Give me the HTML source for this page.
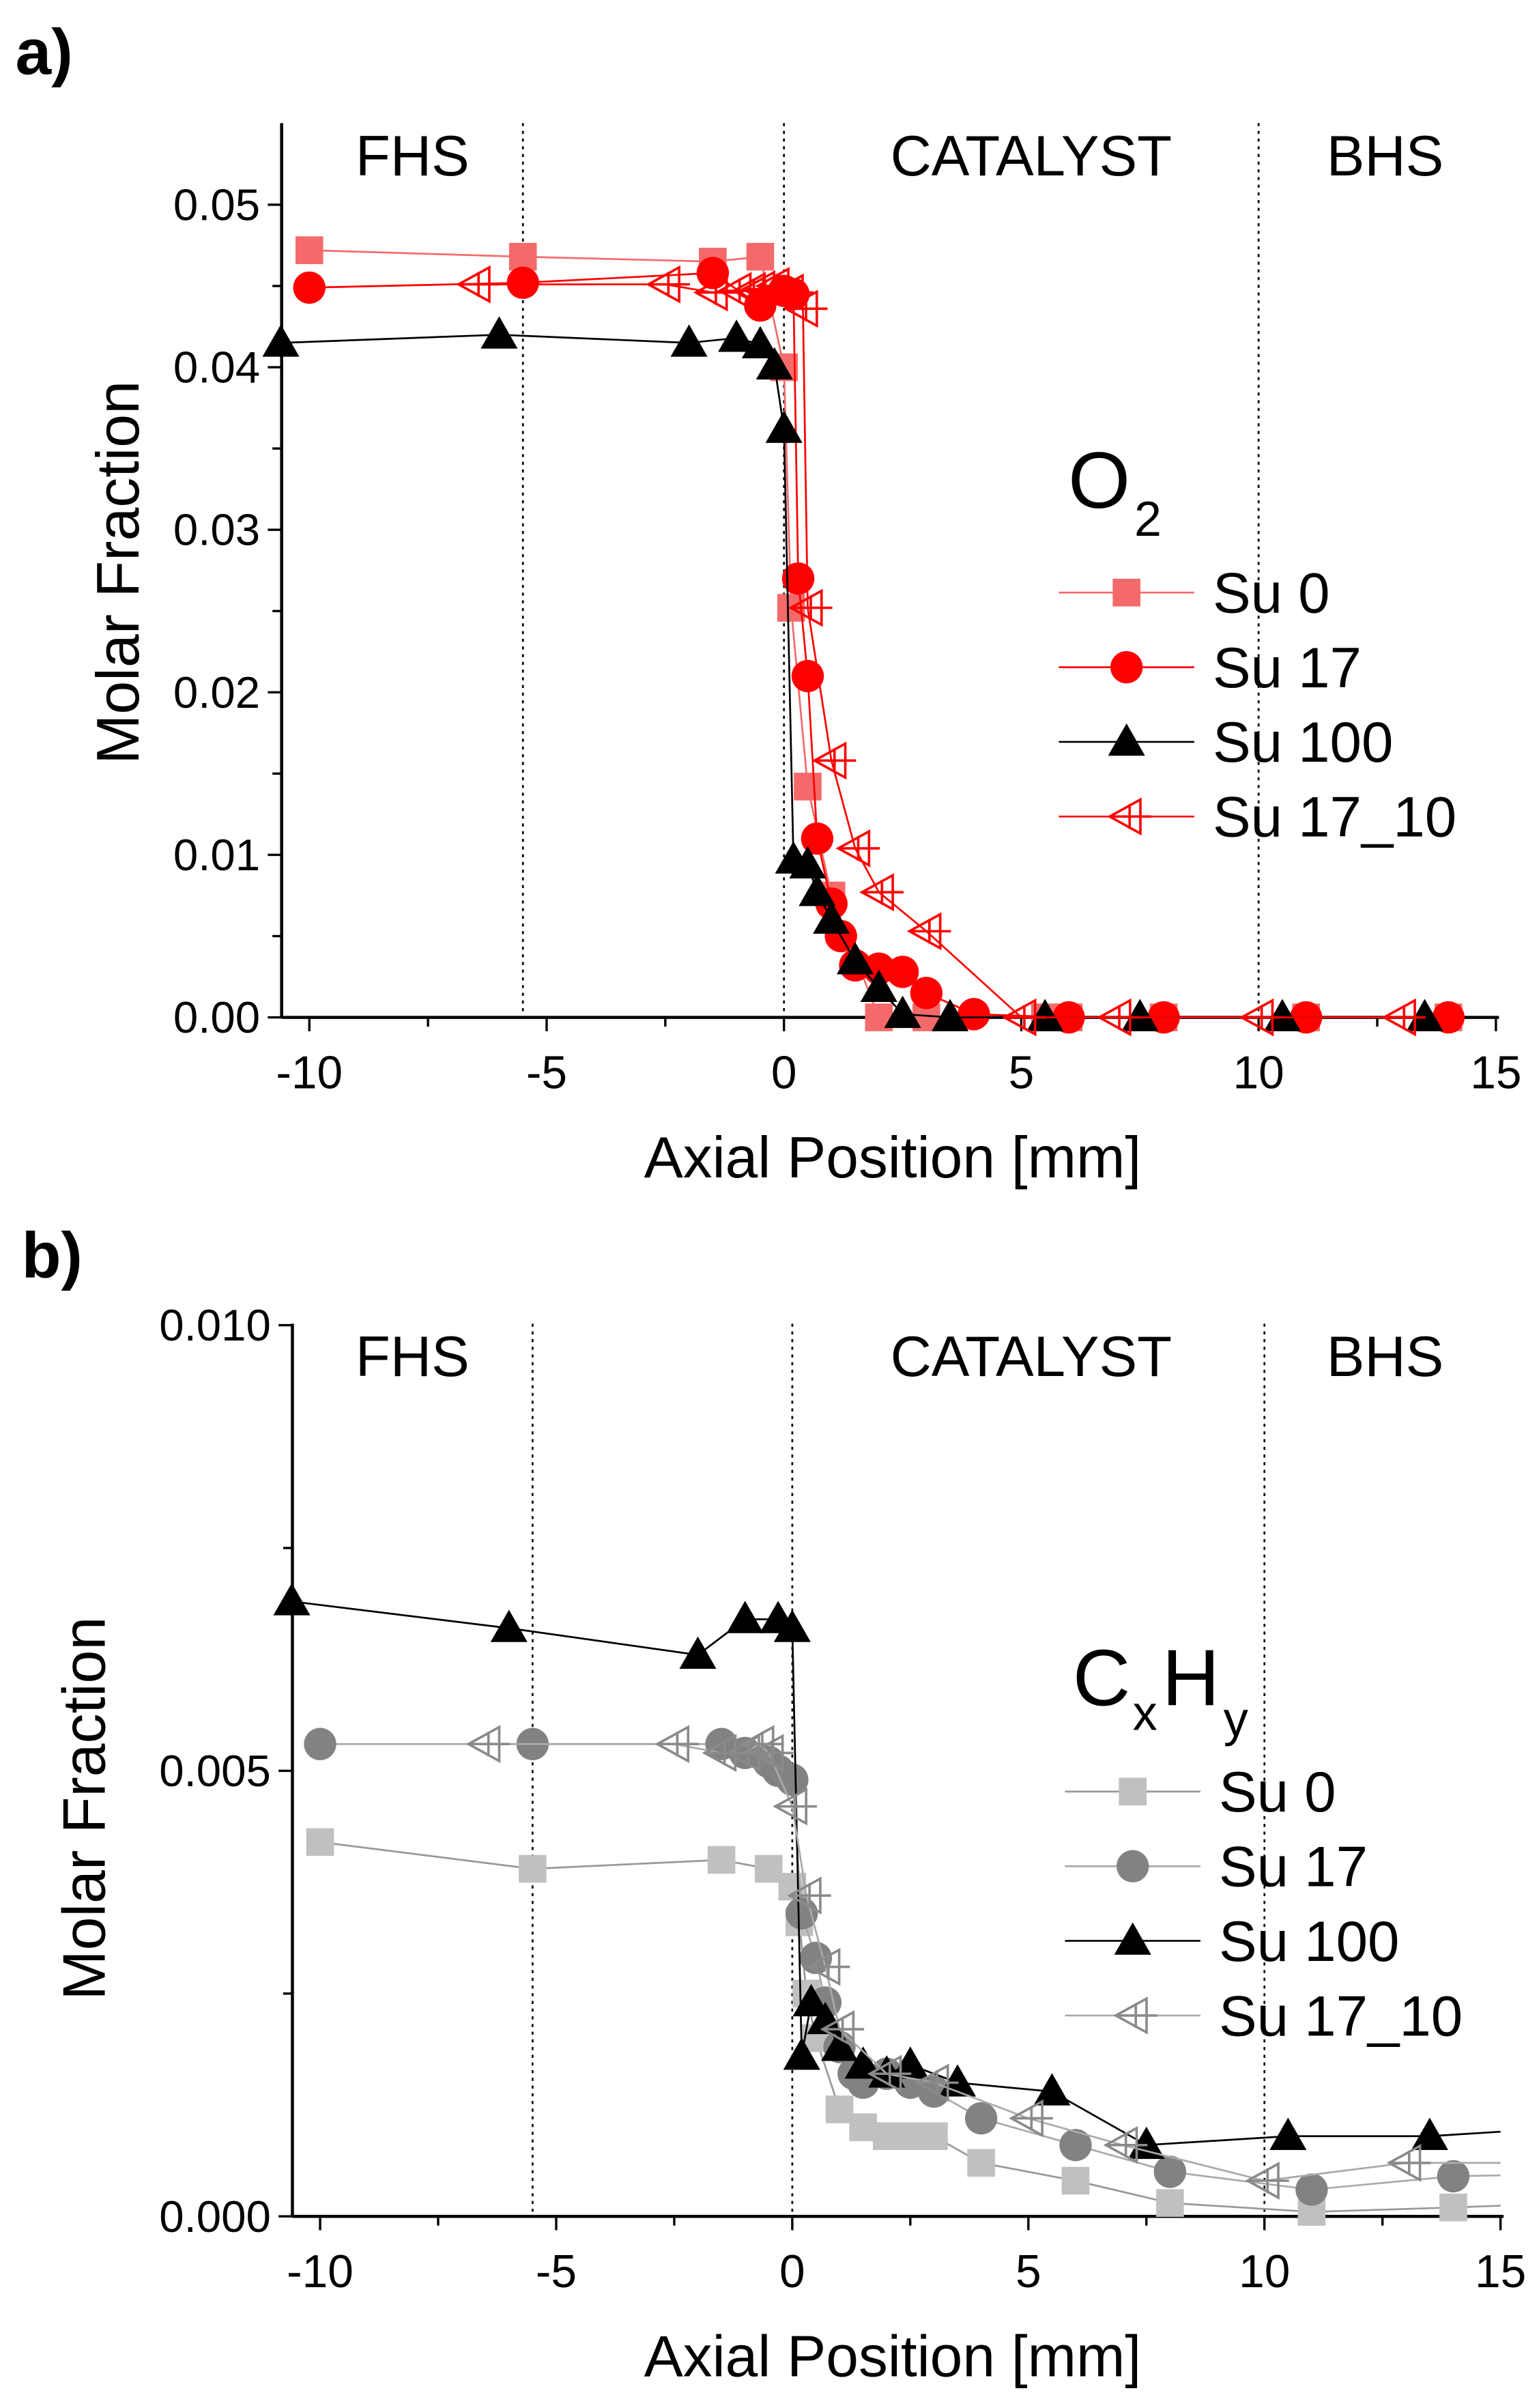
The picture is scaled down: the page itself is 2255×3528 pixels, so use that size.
<!DOCTYPE html>
<html><head><meta charset="utf-8"><style>
html,body{margin:0;padding:0;background:#fff;}
svg{display:block;}
text{font-family:"Liberation Sans",sans-serif;fill:#000;}
</style></head><body>
<svg id="s" xmlns="http://www.w3.org/2000/svg" width="2255" height="3528" viewBox="0 0 1000 1564.5">
<rect width="1000" height="1564.5" fill="#fff"/>
</svg>
<script>
const S=document.getElementById('s');const NS='http://www.w3.org/2000/svg';
function el(t,a,txt){const e=document.createElementNS(NS,t);for(const k in a)e.setAttribute(k,a[k]);if(txt!==undefined)e.textContent=txt;S.appendChild(e);return e;}
function marker(type,x,y,col){
  if(type=='sq')el('rect',{x:x-9,y:y-9,width:18,height:18,fill:col});
  else if(type=='ci')el('circle',{cx:x,cy:y,r:10.5,fill:col});
  else if(type=='tr')el('polygon',{points:`${x},${y-12} ${x+12},${y+9} ${x-12},${y+9}`,fill:col});
  else if(type=='lt'){el('polygon',{points:`${x-11},${y} ${x+9},${y-11} ${x+9},${y+11}`,fill:'none',stroke:col,'stroke-width':1.6});
    el('line',{x1:x-11,y1:y,x2:x+16,y2:y,stroke:col,'stroke-width':1.6});el('line',{x1:x+2,y1:y-8,x2:x+2,y2:y+8,stroke:col,'stroke-width':1.6});}
}
function panel(P){
  const X=v=>P.x0+(v+10)*P.sx, Y=v=>P.y0-v*P.sy;
  [-5.5,0,10].forEach(v=>el('line',{x1:X(v),y1:P.top,x2:X(v),y2:P.y0,stroke:'#000','stroke-width':1.2,'stroke-dasharray':'2,3'}));
  el('line',{x1:P.ax,y1:P.top,x2:P.ax,y2:P.y0,stroke:'#000','stroke-width':2});
  el('line',{x1:P.ax,y1:P.y0,x2:X(15)+2,y2:P.y0,stroke:'#000','stroke-width':2});
  for(let v=-10;v<=15;v+=2.5){const maj=(v%5==0);el('line',{x1:X(v),y1:P.y0,x2:X(v),y2:P.y0+(maj?9:6),stroke:'#000','stroke-width':1.5});
    if(maj)el('text',{x:X(v),y:P.y0+46,'font-size':30,'text-anchor':'middle'},String(v));}
  P.yt.forEach((v,i)=>{const maj=P.ylab[i]!==null;el('line',{x1:P.ax-(maj?9:6),y1:Y(v),x2:P.ax,y2:Y(v),stroke:'#000','stroke-width':1.5});
    if(maj)el('text',{x:P.ax-14,y:Y(v)+10,'font-size':29,'text-anchor':'end'},P.ylab[i]);});
  el('text',{x:P.tag[0],y:P.tag[1],'font-size':42,'font-weight':'bold'},P.tagt);
  el('text',{x:0,y:0,'font-size':39,'text-anchor':'middle',transform:`translate(${P.ylx},${P.yly}) rotate(-90)`},'Molar Fraction');
  el('text',{x:580,y:P.y0+104,'font-size':38,'text-anchor':'middle'},'Axial Position [mm]');
  el('text',{x:268,y:P.top+34,'font-size':37,'text-anchor':'middle'},'FHS');
  el('text',{x:670,y:P.top+34,'font-size':37,'text-anchor':'middle'},'CATALYST');
  el('text',{x:900,y:P.top+34,'font-size':37,'text-anchor':'middle'},'BHS');
  P.series.forEach(s=>{
    let pts=s.d.map(p=>[X(p[0]),Y(p[1])]);
    let lp=pts.slice(); if(s.end)lp.push([X(15),Y(s.end)]);
    el('polyline',{points:lp.map(p=>p.join(',')).join(' '),fill:'none',stroke:s.lc,'stroke-width':1.2});
    pts.forEach(p=>marker(s.m,p[0],p[1],s.c));
  });
  P.series.forEach((s,i)=>{const y=P.ly+i*48.5;
    el('line',{x1:P.lx,y1:y,x2:P.lx+88,y2:y,stroke:s.lc,'stroke-width':1.2});marker(s.m,P.lx+44,y,s.c);
    el('text',{x:P.lx+100,y:y+13,'font-size':37},s.n);});
}
const r1='#f46a6a',r2='#ff0000';
panel({x0:201,sx:30.84,y0:661,sy:10560,ax:183,top:80,tag:[10,48],tagt:'a)',ylx:90,yly:372,lx:688,ly:385,
 yt:[0,0.005,0.01,0.015,0.02,0.025,0.03,0.035,0.04,0.045,0.05],
 ylab:['0.00',null,'0.01',null,'0.02',null,'0.03',null,'0.04',null,'0.05'],
 series:[
 {n:'Su 0',m:'sq',c:r1,lc:r1,d:[[-10,.0472],[-5.5,.0468],[-1.5,.0465],[-0.5,.0468],[0,.0400],[0.15,.0252],[0.5,.0142],[1,.0075],[2,0],[3,0],[5.5,0],[6,0],[8,0],[11,0],[14,0]]},
 {n:'Su 17',m:'ci',c:r2,lc:r2,d:[[-10,.0449],[-5.5,.0452],[-1.5,.0458],[-0.5,.0438],[0,.0447],[0.2,.0445],[0.3,.027],[0.5,.021],[0.7,.011],[1,.007],[1.2,.005],[1.5,.0032],[2,.003],[2.5,.0028],[3,.0015],[4,.0002],[6,0],[8,0],[11,0],[14,0]]},
 {n:'Su 100',m:'tr',c:'#000',lc:'#000',d:[[-10.6,.0415],[-6,.042],[-2,.0415],[-1,.0418],[-0.5,.0414],[-0.2,.0401],[0,.0362],[0.2,.0097],[0.5,.0094],[0.7,.0077],[1,.006],[1.5,.0035],[2,.0018],[2.5,.0002],[3.5,0],[5.5,0],[7.5,0],[10.5,0],[13.5,0]]},
 {n:'Su 17_10',m:'lt',c:r2,lc:r2,d:[[-6.5,.0451],[-2.5,.0451],[-1.5,.0446],[-1,.0447],[-0.7,.0447],[-0.5,.0448],[-0.2,.045],[0.1,.0446],[0.4,.0436],[0.5,.0252],[1,.0158],[1.5,.0104],[2,.0077],[3,.0053],[5,0],[7,0],[10,0],[13,0]]}
 ]});
el('text',{x:694,y:330,'font-size':52},'O');el('text',{x:737,y:348,'font-size':32},'2');
panel({x0:208,sx:30.68,y0:1440,sy:57900,ax:190,top:860,tag:[14,830],tagt:'b)',ylx:68,yly:1175,lx:692,ly:1164,
 yt:[0,0.0025,0.005,0.0075,0.01],ylab:['0.000',null,'0.005',null,'0.010'],
 series:[
 {n:'Su 0',m:'sq',c:'#c0c0c0',lc:'#999',end:.00012,d:[[-10,.0042],[-5.5,.0039],[-1.5,.0040],[-0.5,.0039],[0,.0037],[0.15,.0033],[0.3,.0025],[0.5,.0020],[1,.0012],[1.5,.0010],[2,.0009],[2.5,.0009],[3,.0009],[4,.0006],[6,.0004],[8,.00015],[11,.00005],[14,.0001]]},
 {n:'Su 17',m:'ci',c:'#828282',lc:'#aaa',end:.00046,d:[[-10,.0053],[-5.5,.0053],[-1.5,.0053],[-1,.0052],[-0.5,.0051],[-0.3,.0050],[0,.0049],[0.2,.0034],[0.5,.0029],[0.7,.0024],[1,.0019],[1.3,.0016],[1.5,.0015],[2,.0016],[2.5,.0015],[3,.0014],[4,.0011],[6,.0008],[8,.0005],[11,.0003],[14,.00045]]},
 {n:'Su 100',m:'tr',c:'#000',lc:'#000',end:.00095,d:[[-10.6,.0069],[-6,.0066],[-2,.0063],[-1,.0067],[-0.3,.0067],[0,.0066],[0.2,.0018],[0.4,.0024],[0.7,.0022],[1,.0019],[1.5,.0017],[2,.0016],[2.5,.0017],[3.5,.0015],[5.5,.0014],[7.5,.0008],[10.5,.0009],[13.5,.0009]]},
 {n:'Su 17_10',m:'lt',c:'#8a8a8a',lc:'#aaa',end:.0006,d:[[-6.5,.0053],[-2.5,.0053],[-1.5,.0052],[-1,.0052],[-0.7,.0053],[-0.5,.0052],[0,.0046],[0.3,.0036],[0.7,.0028],[1,.0021],[2,.0016],[3,.0015],[5,.0011],[7,.0008],[10,.0004],[13,.0006]]}
 ]});
el('text',{x:697,y:1108,'font-size':52},'C');el('text',{x:736,y:1124,'font-size':32},'x');
el('text',{x:755,y:1108,'font-size':52},'H');el('text',{x:795,y:1128,'font-size':32},'y');
</script>
</body></html>
